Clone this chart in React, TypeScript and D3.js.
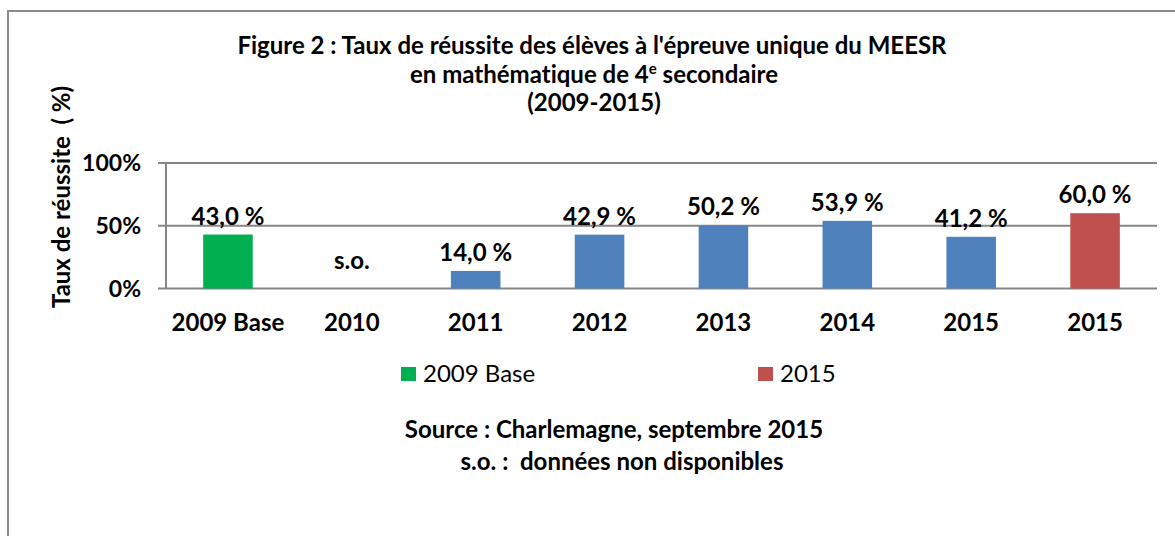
import React from 'react';
import * as d3 from 'd3';

// chart data
const categories = ['2009 Base', '2010', '2011', '2012', '2013', '2014', '2015', '2015'];
const values: (number | null)[] = [43.0, null, 14.0, 42.9, 50.2, 53.9, 41.2, 60.0];
const valueLabels = ['43,0 %', 's.o.', '14,0 %', '42,9 %', '50,2 %', '53,9 %', '41,2 %', '60,0 %'];
const barColors = ['#00B050', '#4F81BD', '#4F81BD', '#4F81BD', '#4F81BD', '#4F81BD', '#4F81BD', '#C0504D'];
const yTicks = [0, 50, 100];
const legendItems = [
  { label: '2009 Base', color: '#00B050' },
  { label: '2015', color: '#C0504D' },
];

const W = 1175;
const H = 536;
const FONT = 'Lato, "Open Sans", sans-serif';

export default function App() {
  const margin = { left: 166, right: 1157, top: 163, bottom: 288.5 };

  const y = d3.scaleLinear().domain([0, 100]).range([margin.bottom, margin.top]);
  const x = d3
    .scaleBand<number>()
    .domain(d3.range(categories.length))
    .range([margin.left, margin.right]);

  const center = (i: number) => (x(i) as number) + x.bandwidth() / 2;
  const barW = x.bandwidth() * 0.4;

  return (
    <svg
      width={W}
      height={H}
      style={{ position: 'absolute', left: 0, top: 0, background: '#fff', fontVariantLigatures: 'none' }}
      fontFamily={FONT}
    >
      <rect x={0} y={0} width={W} height={H} fill="#fff" />
      <rect x={8} y={11} width={W + 20} height={H + 20} fill="none" stroke="#8c8c8c" strokeWidth={2} />

      {/* title */}
      <g fontWeight="bold" fontSize={24} textAnchor="middle" fill="#000">
        <text x={592} y={54}>Figure 2 : Taux de réussite des élèves à l'épreuve unique du MEESR</text>
        <text x={594} y={83}>
          en mathématique de 4<tspan fontSize={15} dy={-9}>e</tspan>
          <tspan dy={9}> secondaire</tspan>
        </text>
        <text x={594} y={111}>(2009-2015)</text>
      </g>

      {/* y axis title */}
      <text
        transform={`translate(70,197) rotate(-90)`}
        textAnchor="middle"
        fontWeight="bold"
        fontSize={24}
      >
        {'Taux de réussite \u00A0( %)'}
      </text>

      {/* gridlines + ticks */}
      {yTicks.map((t) => (
        <g key={t}>
          <line x1={margin.left - 8} x2={margin.right} y1={y(t)} y2={y(t)} stroke="#868686" strokeWidth={2} />
          <text x={141} y={y(t)} dy="0.35em" textAnchor="end" fontWeight="bold" fontSize={23}>
            {t}%
          </text>
        </g>
      ))}
      <line x1={margin.left} x2={margin.left} y1={margin.top} y2={margin.bottom} stroke="#868686" strokeWidth={2} />

      {/* bars */}
      {values.map((v, i) =>
        v == null ? null : (
          <rect
            key={i}
            x={center(i) - barW / 2}
            y={y(v)}
            width={barW}
            height={y(0) - y(v)}
            fill={barColors[i]}
          />
        )
      )}

      {/* data labels */}
      {valueLabels.map((l, i) => (
        <text
          key={i}
          x={center(i)}
          y={values[i] == null ? y(0) - 20 : y(values[i] as number) - 10}
          textAnchor="middle"
          fontWeight="bold"
          fontSize={24}
        >
          {l}
        </text>
      ))}

      {/* category labels */}
      {categories.map((c, i) => (
        <text key={i} x={center(i)} y={331} textAnchor="middle" fontWeight="bold" fontSize={24}>
          {c}
        </text>
      ))}

      {/* legend */}
      {legendItems.map((it, i) => {
        const lx = i === 0 ? 401 : 758;
        return (
          <g key={i}>
            <rect x={lx} y={367} width={15} height={14} fill={it.color} />
            <text x={lx + 22} y={382} fontSize={24}>
              {it.label}
            </text>
          </g>
        );
      })}

      {/* source */}
      <g fontWeight="bold" fontSize={24} textAnchor="middle">
        <text x={614} y={438}>Source : Charlemagne, septembre 2015</text>
        <text x={622} y={470}>{'s.o. : \u00A0données non disponibles'}</text>
      </g>
    </svg>
  );
}
